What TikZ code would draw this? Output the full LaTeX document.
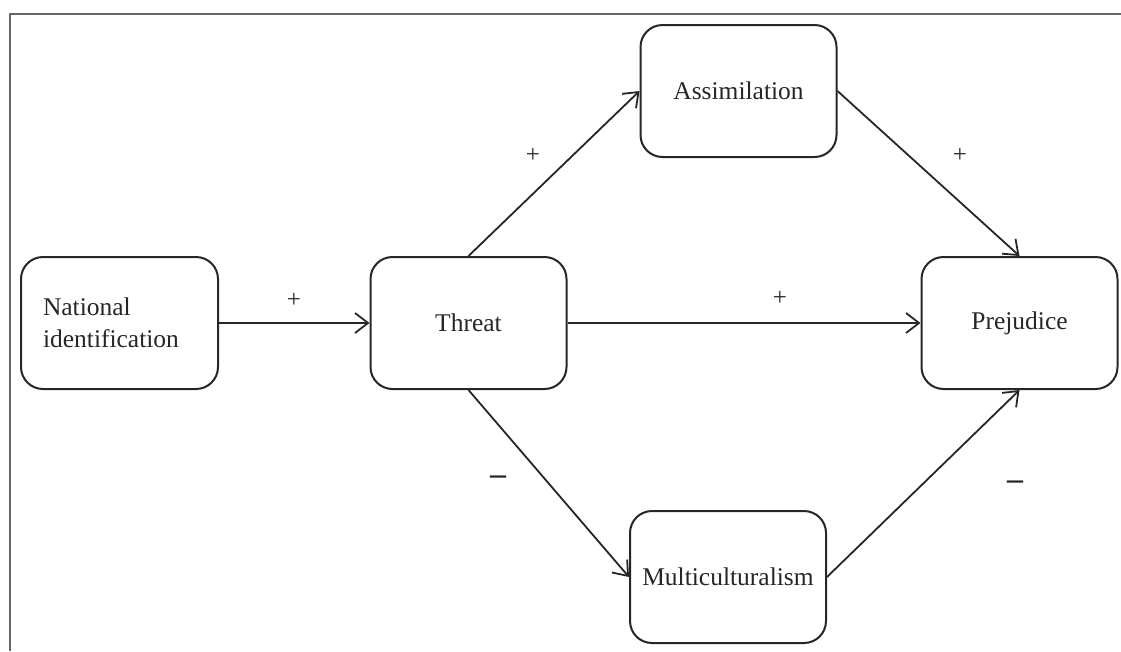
\documentclass[tikz,border=0pt]{standalone}
\usepackage{fontspec}
\setmainfont{Liberation Serif}
\usetikzlibrary{arrows.meta}
\begin{document}
\begin{tikzpicture}[x=1pt,y=-1pt,
  box/.style={draw=black!85, line width=2pt, rounded corners=22pt,
    minimum width=196pt, minimum height=132pt, inner sep=0pt,
    font=\fontsize{25.5}{32}\selectfont, text=black!85},
  conn/.style={draw=black!85, line width=1.8pt,
    -{Straight Barb[length=13pt,width=20pt,line width=1.8pt]}},
  sign/.style={font=\fontsize{25}{31}\selectfont, text=black!85, inner sep=0pt},
  minus/.style={font=\fontsize{32}{38}\selectfont\bfseries, text=black!85, inner sep=0pt}]
\useasboundingbox (0,0) rectangle (1121,651);
\draw[line width=2.5pt, draw=black!60] (10,651) -- (10,14) -- (1121,14);
\node[box, text width=153pt, align=left, inner xsep=22pt] (nat) at (119.5,323) {National\\identification};
\node[box] (threat) at (468.5,323) {Threat};
\node[box] (assim) at (738.5,91) {Assimilation};
\node[box] (prej) at (1019.5,323) {Prejudice};
\node[box] (multi) at (728,577) {Multiculturalism};
\draw[conn] (nat.east) -- (threat.west);
\draw[conn] (threat.north) -- (assim.west);
\draw[conn] (assim.east) -- (prej.north);
\draw[conn] (threat.east) -- (prej.west);
\draw[conn] (threat.south) -- (multi.west);
\draw[conn] (multi.east) -- (prej.south);
\node[sign] (s1) at (294,300) {+};
\node[sign] (s2) at (533,155) {+};
\node[sign] (s3) at (960,155) {+};
\node[sign] (s4) at (780,298) {+};
\node[minus] (s5) at (498,480) {–};
\node[minus] (s6) at (1015,485) {–};
\end{tikzpicture}
\end{document}
